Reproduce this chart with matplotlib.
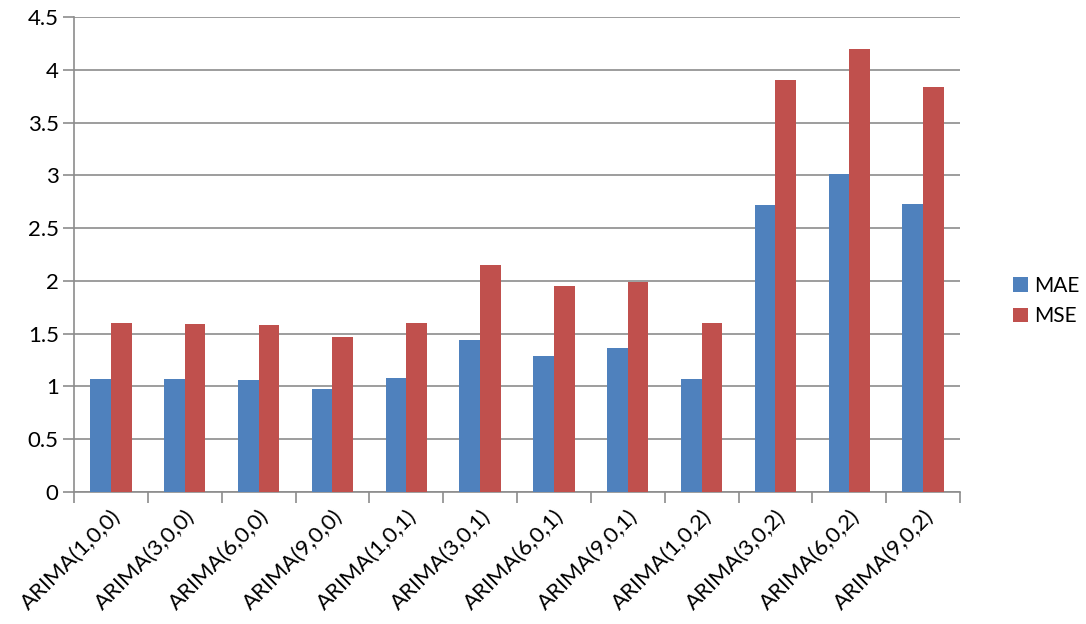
import numpy as np
import matplotlib.pyplot as plt

plt.rcParams['font.family'] = ['Lato', 'DejaVu Sans']

models = ['ARIMA(1,0,0)', 'ARIMA(3,0,0)', 'ARIMA(6,0,0)', 'ARIMA(9,0,0)',
          'ARIMA(1,0,1)', 'ARIMA(3,0,1)', 'ARIMA(6,0,1)', 'ARIMA(9,0,1)',
          'ARIMA(1,0,2)', 'ARIMA(3,0,2)', 'ARIMA(6,0,2)', 'ARIMA(9,0,2)']
mae = [1.07, 1.07, 1.06, 0.98, 1.08, 1.44, 1.29, 1.36, 1.07, 2.72, 3.01, 2.73]
mse = [1.60, 1.59, 1.58, 1.47, 1.60, 2.15, 1.95, 1.99, 1.60, 3.90, 4.20, 3.84]
yticks = [0, 0.5, 1, 1.5, 2, 2.5, 3, 3.5, 4, 4.5]
ytick_labels = ['0', '0.5', '1', '1.5', '2', '2.5', '3', '3.5', '4', '4.5']

blue = '#4F81BD'
red = '#C0504D'
grid_col = '#8c8c8c'

fig = plt.figure(figsize=(10.86, 6.24), dpi=100)
ax = fig.add_axes([74 / 1086, 1 - 492 / 624, 886 / 1086, 475 / 624])

x = np.arange(len(models))
w = 0.28
ax.bar(x - w / 2, mae, width=w, color=blue, label='MAE', zorder=3)
ax.bar(x + w / 2, mse, width=w, color=red, label='MSE', zorder=3)

ax.set_xlim(-0.5, len(models) - 0.5)
ax.set_ylim(0, 4.5)
ax.set_yticks(yticks)
ax.set_yticklabels(ytick_labels, fontsize=16)
ax.yaxis.grid(True, color=grid_col, linewidth=1.2, zorder=0)

# category labels at group centres, tick marks at the group boundaries
ax.set_xticks(x)
ax.set_xticklabels(models, rotation=45, ha='right', rotation_mode='anchor', fontsize=16)
ax.tick_params(axis='x', length=0, pad=10)
ax.set_xticks(np.arange(len(models) + 1) - 0.5, minor=True)
ax.tick_params(axis='x', which='minor', length=8, width=1.2, color=grid_col)
ax.tick_params(axis='y', length=8, width=1.2, color=grid_col, pad=3)

for s in ['top', 'right']:
    ax.spines[s].set_visible(False)
for s in ['left', 'bottom']:
    ax.spines[s].set_color(grid_col)
    ax.spines[s].set_linewidth(1.2)

fig.legend(loc='center left', bbox_to_anchor=(1013 / 1086, 1 - 301 / 624),
           frameon=False, fontsize=15, handlelength=0.7, handleheight=0.7,
           handletextpad=0.3, labelspacing=0.5, borderpad=0, borderaxespad=0)

fig.savefig('out.png', dpi=100)
